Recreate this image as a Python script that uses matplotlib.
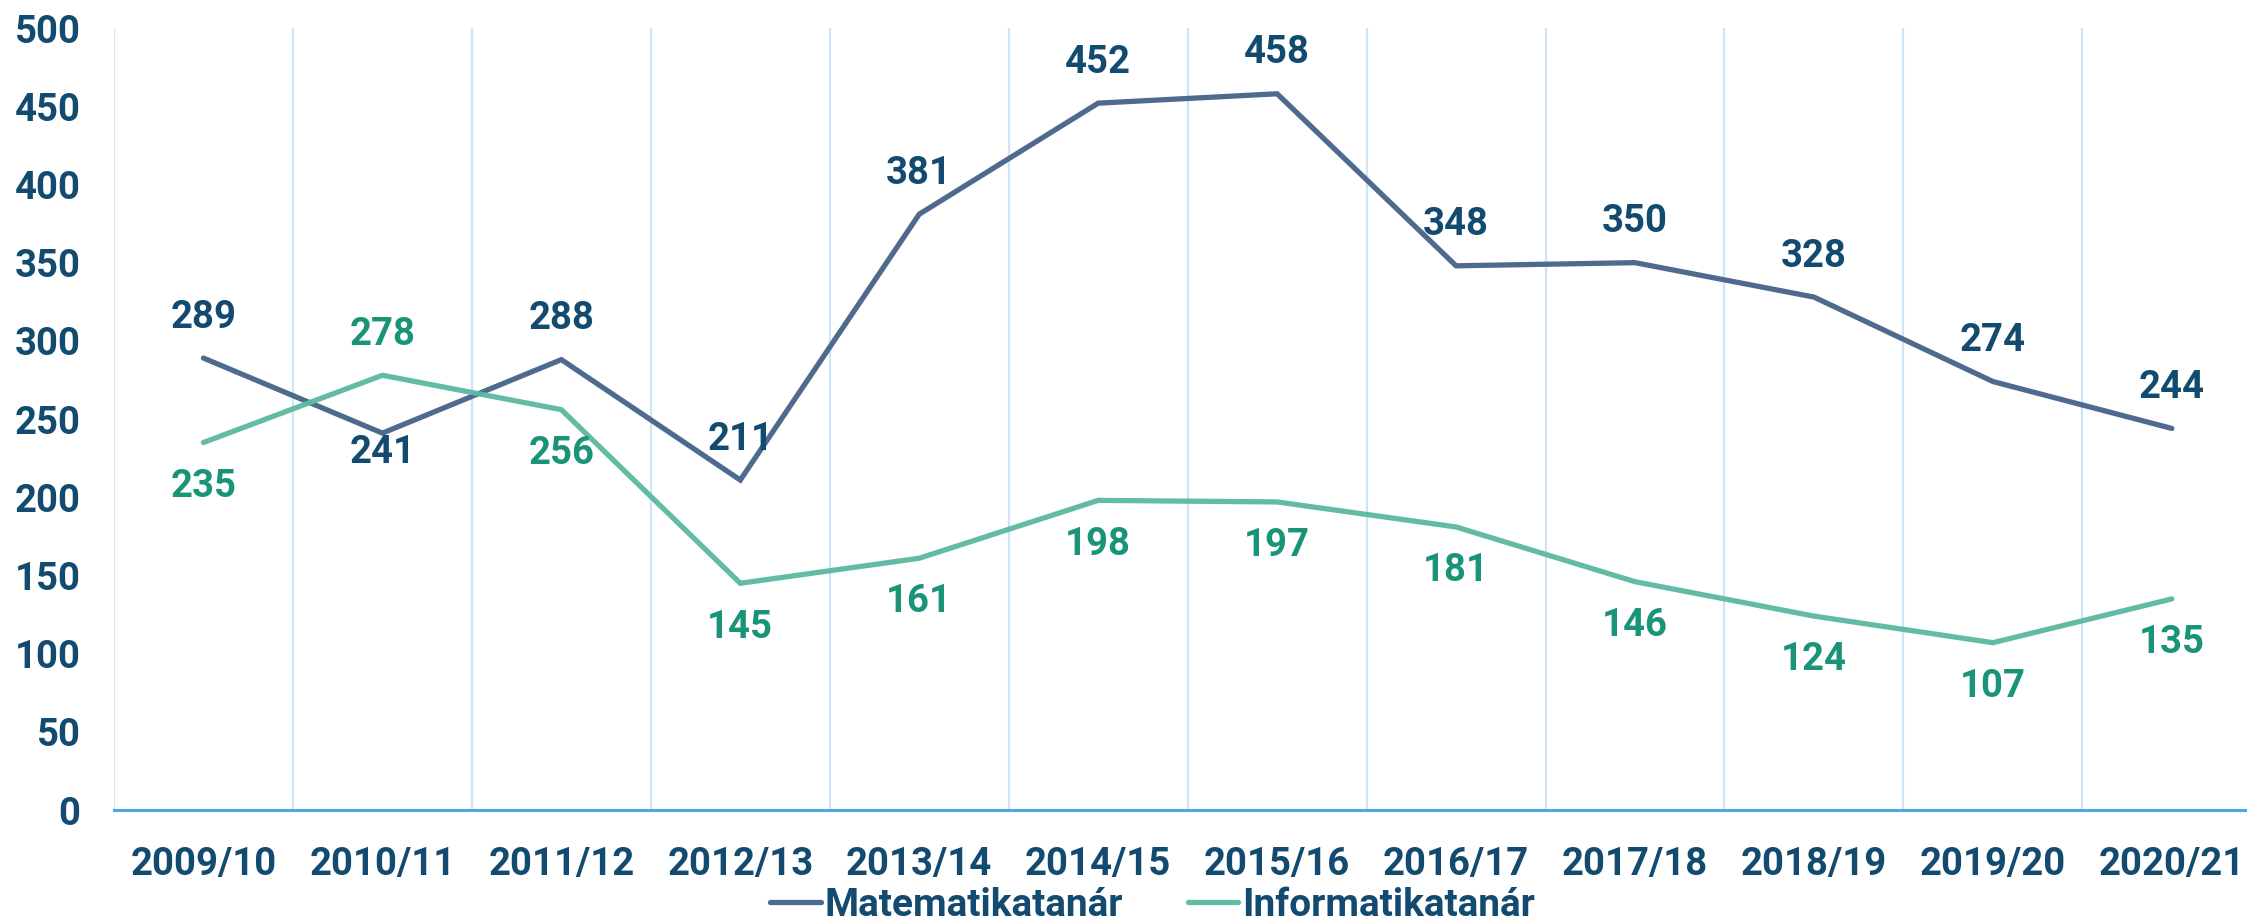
import matplotlib.pyplot as plt

years = ['2009/10', '2010/11', '2011/12', '2012/13', '2013/14', '2014/15',
         '2015/16', '2016/17', '2017/18', '2018/19', '2019/20', '2020/21']
math_teachers = [289, 241, 288, 211, 381, 452, 458, 348, 350, 328, 274, 244]
info_teachers = [235, 278, 256, 145, 161, 198, 197, 181, 146, 124, 107, 135]

# where each value label sits: 'above', 'below', or 'below_close'
math_pos = ['above', 'below_close'] + ['above'] * 10
info_pos = ['below', 'above'] + ['below'] * 10
offsets = {'above': 29.5, 'below': -31.5, 'below_close': -14}

navy = '#134b70'
teal_text = '#1a9479'
math_col = '#4f6a8f'
info_col = '#5bb8a0'

plt.rcParams['font.family'] = ['Roboto', 'DejaVu Sans']

fig = plt.figure(figsize=(22.47, 9.21), dpi=100)
ax = fig.add_axes([114 / 2247, 0.1205, (2247 - 114) / 2247, 0.849])

x = list(range(len(years)))
ax.plot(x, math_teachers, color=math_col, lw=3.8, solid_capstyle='round',
        solid_joinstyle='miter', label='Matematikatanár', zorder=3)
ax.plot(x, info_teachers, color=info_col, lw=3.8, solid_capstyle='round',
        solid_joinstyle='miter', label='Informatikatanár', zorder=3, alpha=0.95)

for i in x:
    ax.annotate(str(math_teachers[i]), (i, math_teachers[i]),
                xytext=(0, offsets[math_pos[i]]), textcoords='offset points',
                ha='center', va='center', fontsize=27.5, fontweight='bold', color=navy)
    ax.annotate(str(info_teachers[i]), (i, info_teachers[i]),
                xytext=(0, offsets[info_pos[i]]), textcoords='offset points',
                ha='center', va='center', fontsize=27.5, fontweight='bold', color=teal_text)

ax.set_xlim(-0.5, 11.42)
ax.set_ylim(0, 500)
ax.set_xticks(x)
ax.set_xticklabels(years)
ax.set_yticks(range(0, 501, 50))

# vertical separators between categories
for b in [i - 0.5 for i in range(len(years) + 1)]:
    ax.axvline(b, color='#cfe4f7', lw=1.6, zorder=1)

for s in ['top', 'right', 'left']:
    ax.spines[s].set_visible(False)
ax.spines['bottom'].set_color('#4ea6e3')
ax.spines['bottom'].set_linewidth(2.2)
ax.spines['bottom'].set_zorder(2)

ax.tick_params(axis='both', length=0, labelsize=27.5, labelcolor=navy)
ax.tick_params(axis='x', pad=26)
ax.tick_params(axis='y', pad=24)
for lab in ax.get_xticklabels() + ax.get_yticklabels():
    lab.set_fontweight('bold')

fig.legend(loc='center', bbox_to_anchor=(0.513, 0.017), ncol=2, frameon=False,
           handlelength=1.3, handletextpad=0.1, columnspacing=1.66,
           labelcolor=navy, prop={'weight': 'bold', 'size': 28})

fig.savefig('out.png', dpi=100)
